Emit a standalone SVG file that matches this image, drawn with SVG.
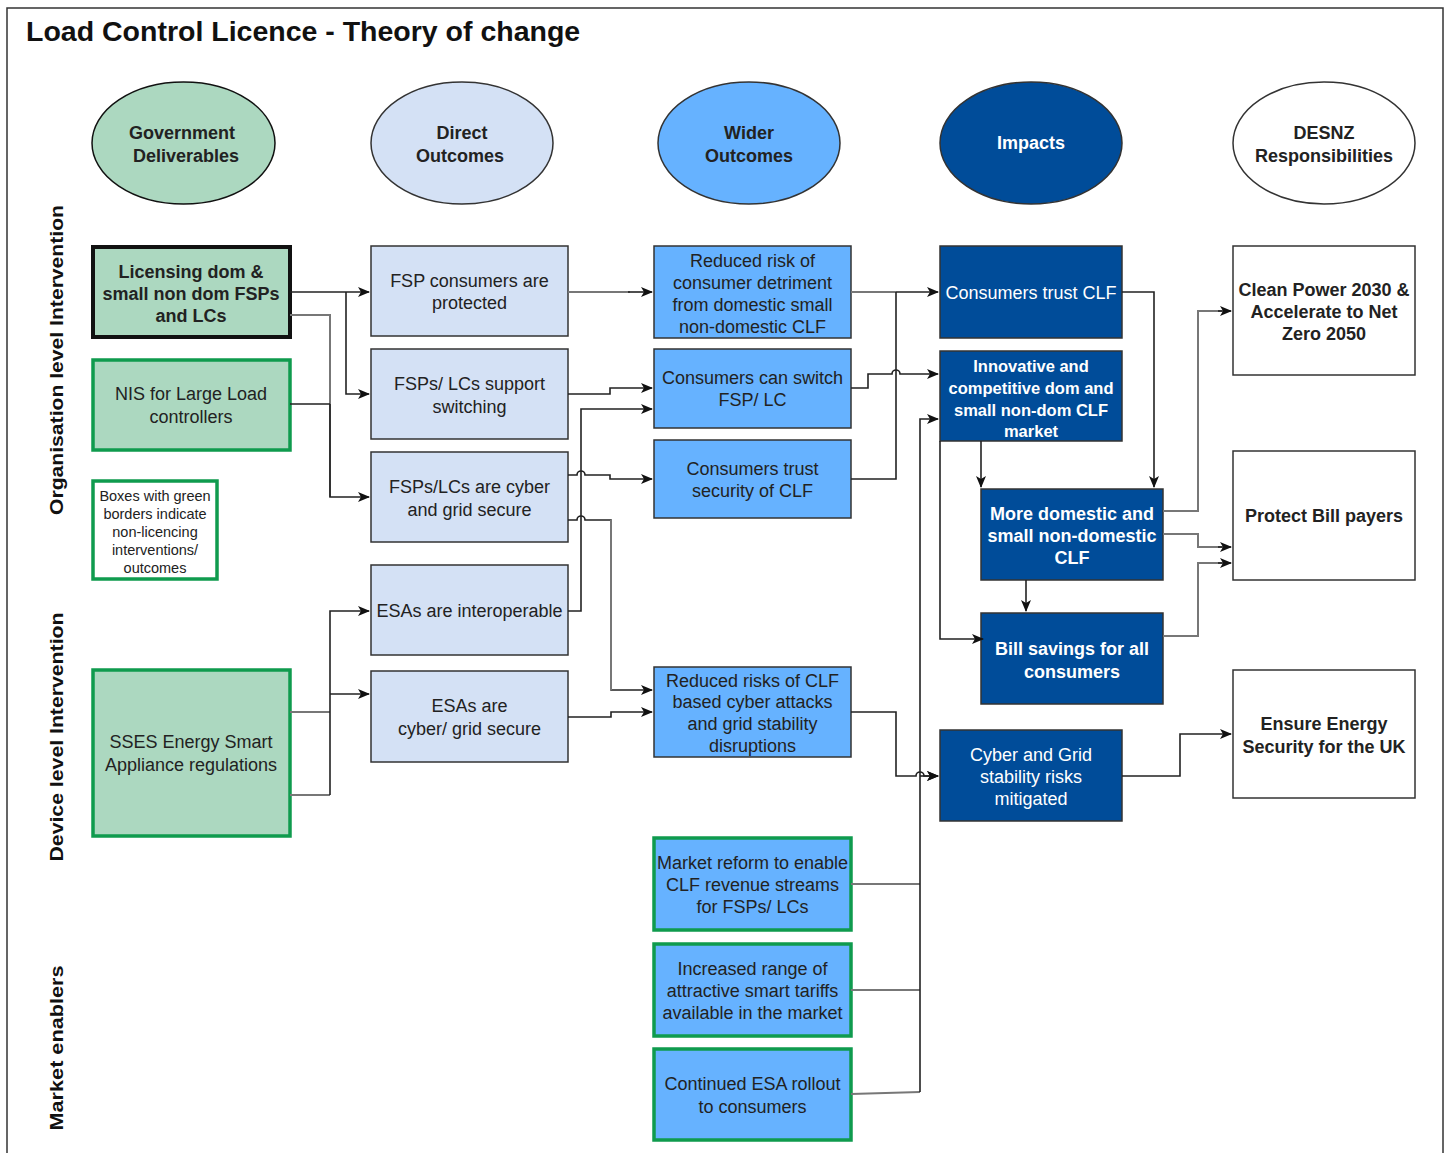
<svg xmlns="http://www.w3.org/2000/svg" width="1451" height="1153" viewBox="0 0 1451 1153">
<style>
text{font-family:"Liberation Sans",Arial,sans-serif;font-size:18px;fill:#222;text-anchor:middle}
.b{font-weight:bold}
.w{fill:#fff}
.sm{font-size:16.5px}
.lg{font-size:14.5px}
.side{font-size:19px;font-weight:bold;fill:#111}
.ttl{font-size:28.5px;font-weight:bold;text-anchor:start;fill:#111}
.gov{fill:#acd8c0;stroke:#111;stroke-width:1.5}
.dir{fill:#d4e1f5;stroke:#333;stroke-width:1.5}
.wid{fill:#66b2ff;stroke:#333;stroke-width:1.5}
.imp{fill:#004c99;stroke:#333;stroke-width:1.5}
.res{fill:#fff;stroke:#333;stroke-width:1.5}
rect.grn{stroke:#0f9b4e;stroke-width:3.5}
.c{fill:none;stroke:#222;stroke-width:1.6}
.g{fill:none;stroke:#777;stroke-width:2}
</style>
<defs>
<marker id="ah" markerUnits="userSpaceOnUse" markerWidth="12" markerHeight="12" viewBox="0 0 12 12" refX="11" refY="6" orient="auto">
<path d="M0,1 L12,6 L0,11 L3,6 z" fill="#111"/>
</marker>
</defs>
<rect x="0" y="0" width="1451" height="1153" fill="#fff"/>
<rect x="7" y="8" width="1436" height="1160" fill="none" stroke="#333" stroke-width="1.5"/>
<text class="ttl" x="26" y="41">Load Control Licence - Theory of change</text>

<g id="side-labels">
<text class="side" transform="translate(63,360) rotate(-90)" textLength="310" lengthAdjust="spacingAndGlyphs">Organisation level Intervention</text>
<text class="side" transform="translate(63,737) rotate(-90)" textLength="249" lengthAdjust="spacingAndGlyphs">Device level Intervention</text>
<text class="side" transform="translate(63,1048) rotate(-90)" textLength="165" lengthAdjust="spacingAndGlyphs">Market enablers</text>
</g>

<g id="hdr-gov"><ellipse class="gov" cx="183.5" cy="143" rx="91.5" ry="61"/><text class="b" x="182" y="139">Government</text><text class="b" x="186" y="162">Deliverables</text></g>
<g id="hdr-direct"><ellipse class="dir" cx="462" cy="143" rx="91" ry="61"/><text class="b" x="462" y="139">Direct</text><text class="b" x="460" y="162">Outcomes</text></g>
<g id="hdr-wider"><ellipse class="wid" cx="749" cy="143" rx="91" ry="61"/><text class="b" x="749" y="139">Wider</text><text class="b" x="749" y="162">Outcomes</text></g>
<g id="hdr-impacts"><ellipse class="imp" cx="1031" cy="143" rx="91" ry="61"/><text class="b w" x="1031" y="149">Impacts</text></g>
<g id="hdr-desnz"><ellipse class="res" cx="1324" cy="143" rx="91" ry="61"/><text class="b" x="1324" y="139">DESNZ</text><text class="b" x="1324" y="162">Responsibilities</text></g>

<g id="n-licensing"><rect class="gov" x="93" y="247" width="197" height="90" style="stroke-width:4"/><text class="b" x="191" y="278">Licensing dom &amp;</text><text class="b" x="191" y="300">small non dom FSPs</text><text class="b" x="191" y="322">and LCs</text></g>
<g id="n-nis"><rect class="gov grn" x="93" y="360" width="197" height="90"/><text x="191" y="400">NIS for Large Load</text><text x="191" y="423">controllers</text></g>
<g id="n-legend"><rect class="res grn" x="93" y="481" width="124" height="98"/><text class="lg" x="155" y="501">Boxes with green</text><text class="lg" x="155" y="519">borders indicate</text><text class="lg" x="155" y="537">non-licencing</text><text class="lg" x="155" y="555">interventions/</text><text class="lg" x="155" y="573">outcomes</text></g>
<g id="n-sses"><rect class="gov grn" x="93" y="670" width="197" height="166"/><text x="191" y="748">SSES Energy Smart</text><text x="191" y="771">Appliance regulations</text></g>

<g id="n-fsp-protected"><rect class="dir" x="371" y="246" width="197" height="90"/><text x="469.5" y="287">FSP consumers are</text><text x="469.5" y="309">protected</text></g>
<g id="n-switching"><rect class="dir" x="371" y="349" width="197" height="90"/><text x="469.5" y="390">FSPs/ LCs support</text><text x="469.5" y="413">switching</text></g>
<g id="n-cyber-secure"><rect class="dir" x="371" y="452" width="197" height="90"/><text x="469.5" y="493">FSPs/LCs are cyber</text><text x="469.5" y="516">and grid secure</text></g>
<g id="n-interop"><rect class="dir" x="371" y="565" width="197" height="90"/><text x="469.5" y="617">ESAs are interoperable</text></g>
<g id="n-esa-secure"><rect class="dir" x="371" y="671" width="197" height="91"/><text x="469.5" y="712">ESAs are</text><text x="469.5" y="735">cyber/ grid secure</text></g>

<g id="n-reduced-detriment"><rect class="wid" x="654" y="246" width="197" height="92"/><text x="752.5" y="267">Reduced risk of</text><text x="752.5" y="289">consumer detriment</text><text x="752.5" y="311">from domestic small</text><text x="752.5" y="333">non-domestic CLF</text></g>
<g id="n-can-switch"><rect class="wid" x="654" y="349" width="197" height="79"/><text x="752.5" y="384">Consumers can switch</text><text x="752.5" y="406">FSP/ LC</text></g>
<g id="n-trust-security"><rect class="wid" x="654" y="440" width="197" height="78"/><text x="752.5" y="475">Consumers trust</text><text x="752.5" y="497">security of CLF</text></g>
<g id="n-reduced-cyber"><rect class="wid" x="654" y="667" width="197" height="90"/><text x="752.5" y="687">Reduced risks of CLF</text><text x="752.5" y="708">based cyber attacks</text><text x="752.5" y="730">and grid stability</text><text x="752.5" y="752">disruptions</text></g>
<g id="n-market-reform"><rect class="wid grn" x="654" y="838" width="197" height="92"/><text x="752.5" y="869">Market reform to enable</text><text x="752.5" y="891">CLF revenue streams</text><text x="752.5" y="913">for FSPs/ LCs</text></g>
<g id="n-tariffs"><rect class="wid grn" x="654" y="944" width="197" height="92"/><text x="752.5" y="975">Increased range of</text><text x="752.5" y="997">attractive smart tariffs</text><text x="752.5" y="1019">available in the market</text></g>
<g id="n-esa-rollout"><rect class="wid grn" x="654" y="1049" width="197" height="91"/><text x="752.5" y="1090">Continued ESA rollout</text><text x="752.5" y="1113">to consumers</text></g>

<g id="n-trust-clf"><rect class="imp" x="940" y="246" width="182" height="92"/><text class="w" x="1031" y="299">Consumers trust CLF</text></g>
<g id="n-innovative"><rect class="imp" x="940" y="351" width="182" height="90"/><text class="w b sm" x="1031" y="372">Innovative and</text><text class="w b sm" x="1031" y="394">competitive dom and</text><text class="w b sm" x="1031" y="416">small non-dom CLF</text><text class="w b sm" x="1031" y="437">market</text></g>
<g id="n-more-clf"><rect class="imp" x="981" y="489" width="182" height="91"/><text class="w b" x="1072" y="520">More domestic and</text><text class="w b" x="1072" y="542">small non-domestic</text><text class="w b" x="1072" y="564">CLF</text></g>
<g id="n-bill-savings"><rect class="imp" x="981" y="613" width="182" height="91"/><text class="w b" x="1072" y="655">Bill savings for all</text><text class="w b" x="1072" y="678">consumers</text></g>
<g id="n-cyber-mitigated"><rect class="imp" x="940" y="730" width="182" height="91"/><text class="w" x="1031" y="761">Cyber and Grid</text><text class="w" x="1031" y="783">stability risks</text><text class="w" x="1031" y="805">mitigated</text></g>

<g id="n-clean-power"><rect class="res" x="1233" y="246" width="182" height="129"/><text class="b" x="1324" y="296">Clean Power 2030 &amp;</text><text class="b" x="1324" y="318">Accelerate to Net</text><text class="b" x="1324" y="340">Zero 2050</text></g>
<g id="n-protect"><rect class="res" x="1233" y="451" width="182" height="129"/><text class="b" x="1324" y="522">Protect Bill payers</text></g>
<g id="n-security"><rect class="res" x="1233" y="670" width="182" height="128"/><text class="b" x="1324" y="730">Ensure Energy</text><text class="b" x="1324" y="753">Security for the UK</text></g>

<g id="connectors">
<path class="c" d="M290,292 H369" marker-end="url(#ah)"/>
<path class="c" d="M346,292 V394 H369" marker-end="url(#ah)"/>
<path class="g" d="M290,315 H330 V497"/>
<path class="c" d="M290,404 H330 M330,404 V497 H369" marker-end="url(#ah)"/>
<path class="g" d="M290,712 H330 M290,795 H330"/>
<path class="c" d="M330,795 V611 H369" marker-end="url(#ah)"/>
<path class="c" d="M330,694 H369" marker-end="url(#ah)"/>

<path class="g" d="M568,292 H630"/>
<path class="c" d="M628,292 H652" marker-end="url(#ah)"/>
<path class="c" d="M568,394 H610 V388 H652" marker-end="url(#ah)"/>
<path class="c" d="M568,611 H581 V409 H652" marker-end="url(#ah)"/>
<path class="c" d="M568,475 H577 A4,4 0 0 1 585,475 H610 V479 H652" marker-end="url(#ah)"/>
<path class="c" d="M568,520 H577 A4,4 0 0 1 585,520 H611 V690 H652" marker-end="url(#ah)"/>
<path class="g" d="M611,520 V690"/>
<path class="c" d="M568,717 H611 V712 H652" marker-end="url(#ah)"/>

<path class="g" d="M851,292 H896"/>
<path class="c" d="M896,292 H938" marker-end="url(#ah)"/>
<path class="c" d="M851,479 H896 V292"/>
<path class="c" d="M851,388 H868 V374 H892 A4,4 0 0 1 900,374 H938" marker-end="url(#ah)"/>
<path class="c" d="M851,712 H896 V776 H916 A4,4 0 0 1 924,776 H938" marker-end="url(#ah)"/>
<path class="g" d="M851,884 H920 M851,990 H920 M851,1094 L920,1092"/>
<path class="c" d="M920,1092 V419 H938" marker-end="url(#ah)"/>
<path class="c" d="M920,776 H938" marker-end="url(#ah)"/>

<path class="c" d="M981,441 V487" marker-end="url(#ah)"/>
<path class="c" d="M940,441 V639 H983" marker-end="url(#ah)"/>
<path class="c" d="M1122,292 H1154 V487" marker-end="url(#ah)"/>
<path class="c" d="M1026,580 V611" marker-end="url(#ah)"/>

<path class="g" d="M1163,511 H1198 V311 H1222"/>
<path class="c" d="M1218,311 H1231" marker-end="url(#ah)"/>
<path class="g" d="M1163,534 H1198 V547 H1222"/>
<path class="c" d="M1218,547 H1231" marker-end="url(#ah)"/>
<path class="g" d="M1163,636 H1198 V563 H1222"/>
<path class="c" d="M1218,563 H1231" marker-end="url(#ah)"/>
<path class="c" d="M1122,776 H1180 V734 H1231" marker-end="url(#ah)"/>
</g>
</svg>
